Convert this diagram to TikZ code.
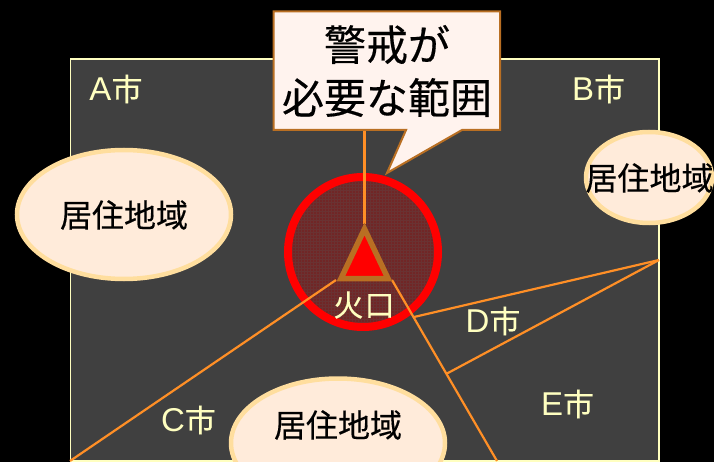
\documentclass[tikz,border=0pt]{standalone}
\usepackage{fontspec}
\usetikzlibrary{shapes.geometric,patterns.meta}
\newfontfamily\cjk[RawFeature={embolden=0.35}]{Noto Sans CJK JP}
\newfontfamily\latn{Liberation Sans}
\definecolor{bgdark}{HTML}{404040}
\definecolor{framecol}{HTML}{FFFFC0}
\definecolor{linecol}{HTML}{FF8F26}
\definecolor{brownc}{HTML}{B96F23}
\definecolor{calloutfill}{HTML}{FFF3EE}
\definecolor{ellfill}{HTML}{FFEBDA}
\definecolor{elledge}{HTML}{FFDE9E}
\tikzset{
  x=1pt,y=-1pt,
  lineto/.style={draw=linecol,line width=2.2pt},
  town/.style={ellipse,draw=elledge,line width=4.5pt,fill=ellfill,inner sep=0pt},
  townlabel/.style={inner sep=0pt,text=black,font=\cjk\fontsize{32}{34}\selectfont},
  citylabel/.style={text=framecol,inner sep=0pt,font=\cjk\fontsize{31}{32}\selectfont},
}
\newcommand{\lat}[1]{{\latn\fontsize{33}{32}\selectfont #1}}
\begin{document}
\begin{tikzpicture}
\useasboundingbox (0,0) rectangle (714,462);
\fill[black] (0,0) rectangle (714,462);
\draw[fill=bgdark,draw=framecol,line width=1.6pt] (70.5,59) rectangle (659,461);
% hazard circle
\fill[red!22!bgdark] (363,252) circle[radius=72];
\path[pattern={Dots[radius=0.7pt,distance=3pt,angle=0]},pattern color=red!55!black] (363,252) circle[radius=72];
\node[circle,draw=red,line width=8pt,minimum size=150pt,inner sep=0pt] (crater) at (363,252) {};
% coordinates
\coordinate (apex) at (364.5,224);
\coordinate (bl) at (336,280);
\coordinate (br) at (392,280);
\coordinate (calloutbase) at (364.5,130);
\coordinate (cbottom) at (70,461);
\coordinate (ebottom) at (497,461);
\coordinate (dright) at (659,260);
\coordinate (dleft) at (414,317);
\coordinate (dmid) at (447,373.5);
% connectors
\draw[lineto,line width=2.7pt] (calloutbase) -- (apex);
\draw[lineto] (bl) -- (cbottom);
\draw[lineto] (br) -- (ebottom);
\draw[lineto] (dleft) -- (dright);
\draw[lineto] (dmid) -- (dright);
% volcano
\draw[fill=red,draw=brownc,line width=5.5pt,miter limit=10] (364.5,229) -- (341,278.5) -- (388,278.5) -- cycle;
\node[text=framecol,inner sep=0pt,font=\cjk\fontsize{30}{32}\selectfont] (kako) at (364,305) {火\hspace{1pt}口};
% towns
\node[town,minimum width=214pt,minimum height=129pt] (t1) at (124,214.5) {};
\node[townlabel] (t1text) at (124,215) {居住地域};
\node[town,minimum width=126pt,minimum height=91pt] (t2) at (649,177.5) {};
\node[townlabel] (t2text) at (649.5,178) {居住地域};
\node[town,minimum width=214pt,minimum height=129pt] (t3) at (338,443) {};
\node[townlabel] (t3text) at (338,425) {居住地域};
% city labels
\node[citylabel] (A) at (116,89) {\lat{A}市};
\node[citylabel] (B) at (598.5,89) {\lat{B}市};
\node[citylabel] (C) at (188.5,420) {\lat{C}市};
\node[citylabel] (D) at (493,321) {\lat{D}市};
\node[citylabel] (E) at (567.5,404) {\lat{E}市};
% callout
\draw[fill=calloutfill,draw=brownc,line width=2pt,line join=miter]
  (273.5,11.5) -- (500,11.5) -- (500,130) -- (462,130) -- (387,173) -- (406,130) -- (273.5,130) -- cycle;
\node[inner sep=0pt,align=center,text=black,font=\cjk\fontsize{42}{53}\selectfont] (callout) at (387,71) {警戒が\\必要な範囲};
\end{tikzpicture}
\end{document}
